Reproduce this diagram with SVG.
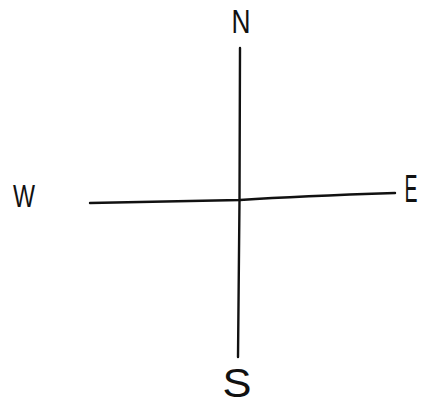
<svg xmlns="http://www.w3.org/2000/svg" width="429" height="405" viewBox="0 0 429 405">
<style>
.ln{stroke:#111;stroke-width:2.4;fill:none;stroke-linecap:round}
.lb{font-family:"Liberation Sans",Arial,sans-serif;fill:#111;text-anchor:middle;font-weight:normal}
</style>
<rect width="429" height="405" fill="#fff"/>
<g id="connectors">
<path class="ln" d="M240,48 L239.5,200 L238,357"/>
<path class="ln" d="M90,203 L240,200 Q300,196 395,193"/>
</g>
<g id="N"><text class="lb" x="241" y="33" font-size="33" textLength="19" lengthAdjust="spacingAndGlyphs">N</text></g>
<g id="W"><text class="lb" x="24" y="207" font-size="31" textLength="22" lengthAdjust="spacingAndGlyphs">W</text></g>
<g id="E"><text class="lb" x="411" y="202" font-size="39" textLength="13" lengthAdjust="spacingAndGlyphs">E</text></g>
<g id="S"><text class="lb" x="237" y="397" font-size="40" textLength="29" lengthAdjust="spacingAndGlyphs">S</text></g>
</svg>
